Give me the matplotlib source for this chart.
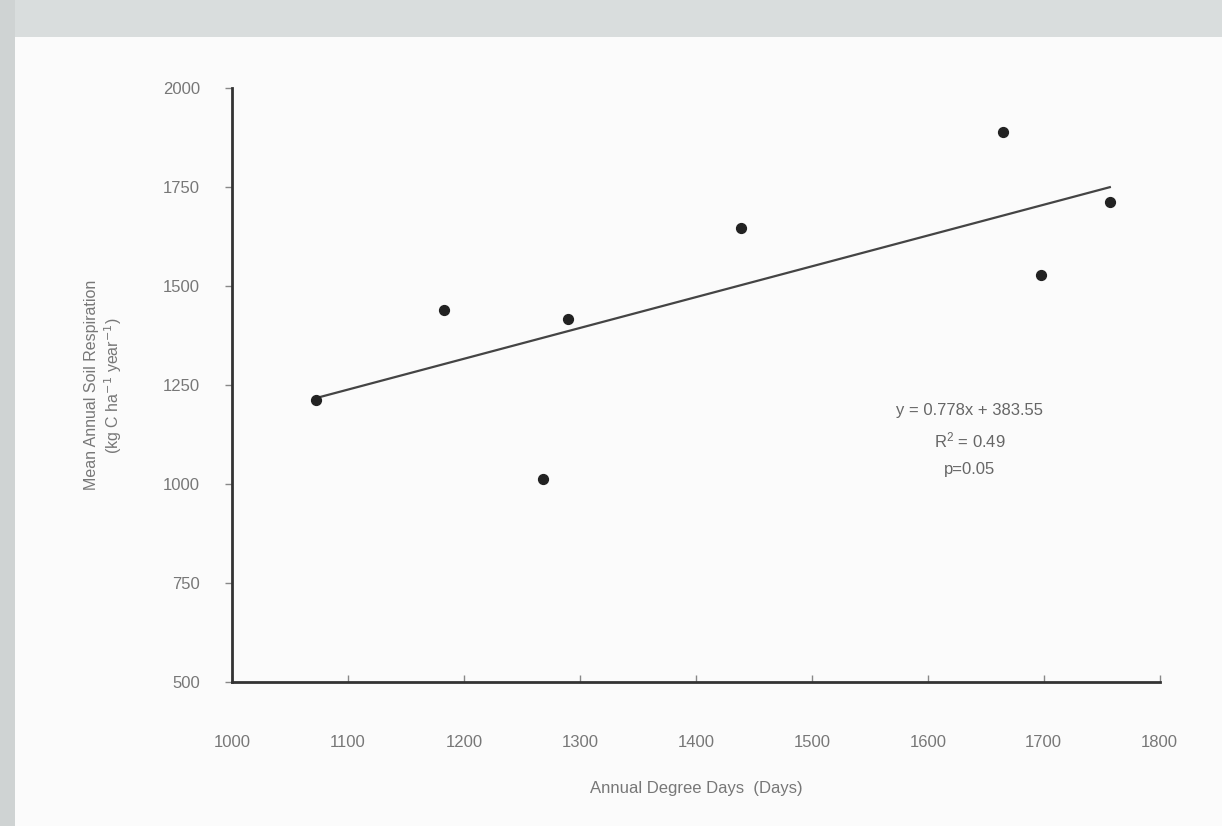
import matplotlib
matplotlib.use("Agg")
import matplotlib.pyplot as plt
from matplotlib.patches import Rectangle

# Annual degree days (x) and mean annual soil respiration (y)
degree_days = [1072, 1183, 1268, 1290, 1439, 1665, 1698, 1757]
respiration = [1214, 1441, 1013, 1417, 1648, 1889, 1528, 1714]

# Linear fit reported on the chart
slope = 0.778
intercept = 383.55
r_squared = 0.49
p_value = 0.05

x_ticks = [1000, 1100, 1200, 1300, 1400, 1500, 1600, 1700, 1800]
y_ticks = [500, 750, 1000, 1250, 1500, 1750, 2000]

plt.rcParams['font.family'] = ['Liberation Sans Narrow', 'Liberation Sans', 'DejaVu Sans']

fig = plt.figure(figsize=(12.22, 8.26), dpi=100)
fig.patch.set_facecolor('#fbfbfb')
# grey band along the top and left edge of the sheet
fig.patches.append(Rectangle((0, 0.955), 1, 0.045, transform=fig.transFigure,
                             facecolor='#d9dddd', edgecolor='none', zorder=0))
fig.patches.append(Rectangle((0, 0), 0.012, 1, transform=fig.transFigure,
                             facecolor='#cfd3d3', edgecolor='none', zorder=0))

ax = fig.add_axes([0.19, 0.174, 0.759, 0.719])
ax.set_facecolor('none')

ax.scatter(degree_days, respiration, s=50, color='#222222', zorder=3)

x0, x1 = min(degree_days), max(degree_days)
ax.plot([x0, x1], [slope * x0 + intercept, slope * x1 + intercept],
        color='#444444', lw=1.6, zorder=2)

ax.set_xlim(1000, 1800)
ax.set_ylim(500, 2000)
ax.set_xticks(x_ticks)
ax.set_yticks(y_ticks)

for side in ('top', 'right'):
    ax.spines[side].set_visible(False)
for side in ('left', 'bottom'):
    ax.spines[side].set_color('#333333')
    ax.spines[side].set_linewidth(2.0)

ax.tick_params(axis='y', direction='out', length=5, width=1, color='#888888',
               labelsize=12, labelcolor='#777777', pad=18)
ax.tick_params(axis='x', direction='in', length=5, width=1, color='#888888',
               labelsize=12, labelcolor='#777777', pad=38)

ax.set_xlabel('Annual Degree Days  (Days)', fontsize=12, color='#777777', labelpad=22)
ax.set_ylabel('Mean Annual Soil Respiration\n(kg C ha$^{-1}$ year$^{-1}$)',
              fontsize=11.5, color='#777777', labelpad=28, linespacing=1.2)

# regression statistics, one evenly spaced line each
stats_lines = [f'y = {slope}x + {intercept}',
               f'$\\mathregular{{R^2}}$ = {r_squared}',
               f'p={p_value}']
for i, line in enumerate(stats_lines):
    ax.text(0.795, 0.458 - i * 0.05, line, transform=ax.transAxes,
            ha='center', va='center', fontsize=12, color='#666666')

fig.savefig('out.png', dpi=100, facecolor=fig.get_facecolor())
